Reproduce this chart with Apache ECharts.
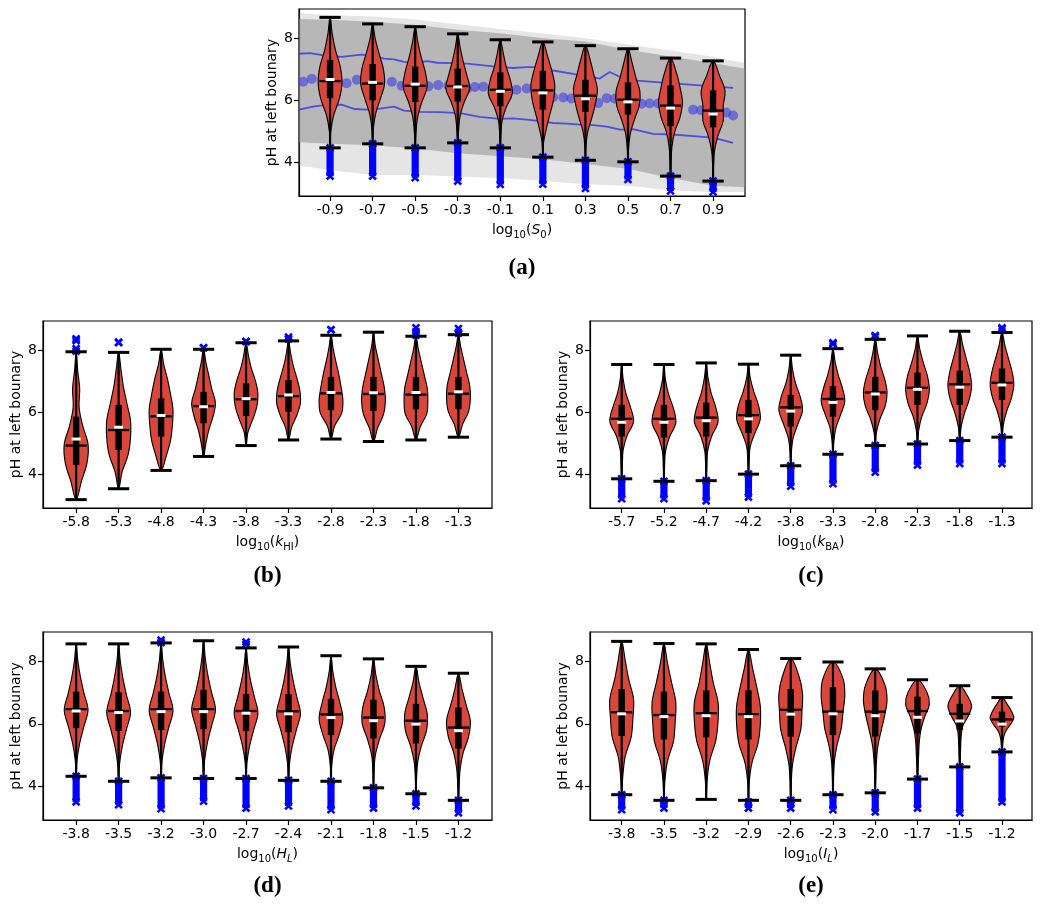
<!DOCTYPE html>
<html>
<head>
<meta charset="utf-8">
<script src="https://cdn.jsdelivr.net/npm/echarts@6/dist/echarts.min.js"></script>
<style>
html, body { margin: 0; padding: 0; background: #fff; }
#chart { width: 1050px; height: 916px; }
</style>
</head>
<body>
<div id="chart"></div>
<script>
// ---- panel (a): log10(S0)
var labelsA = ['-0.9', '-0.7', '-0.5', '-0.3', '-0.1', '0.1', '0.3', '0.5', '0.7', '0.9'];
var capLoA = [4.47, 4.60, 4.47, 4.63, 4.47, 4.17, 4.07, 4.02, 3.56, 3.40];
var capHiA = [8.67, 8.46, 8.37, 8.14, 7.95, 7.88, 7.76, 7.66, 7.36, 7.27];
var q1A = [6.07, 6.00, 5.95, 5.96, 5.81, 5.70, 5.63, 5.54, 5.17, 5.13];
var q3A = [7.30, 7.17, 7.09, 7.02, 6.90, 6.95, 6.66, 6.58, 6.48, 6.32];
var medA = [6.62, 6.54, 6.47, 6.46, 6.34, 6.32, 6.15, 6.02, 5.83, 5.67];
var meanA = [6.67, 6.58, 6.52, 6.43, 6.29, 6.24, 6.05, 5.95, 5.75, 5.56];
var shapeA = [
	[0, 0.06, 0.30, 0.78, 1.00, 0.85, 0.45, 0.18, 0],
	[0, 0.06, 0.25, 0.65, 1.00, 0.90, 0.55, 0.22, 0],
	[0, 0.07, 0.20, 0.55, 1.00, 0.85, 0.50, 0.22, 0],
	[0, 0.08, 0.20, 0.55, 1.00, 0.75, 0.45, 0.20, 0],
	[0, 0.05, 0.15, 0.50, 1.00, 0.85, 0.50, 0.25, 0],
	[0, 0.06, 0.30, 0.60, 0.90, 1.00, 0.75, 0.40, 0],
	[0, 0.05, 0.20, 0.55, 0.85, 1.00, 0.70, 0.40, 0],
	[0, 0.06, 0.20, 0.55, 0.95, 1.00, 0.65, 0.35, 0],
	[0, 0.05, 0.12, 0.35, 0.80, 1.00, 0.80, 0.50, 0],
	[0, 0.04, 0.12, 0.40, 0.85, 0.85, 1.00, 0.55, 0]
];
var outA = [[0, 3.56, 4.47], [1, 3.56, 4.60], [2, 3.51, 4.47], [3, 3.40, 4.63], [4, 3.29, 4.47],
	[5, 3.30, 4.17], [6, 3.16, 4.07], [7, 3.45, 4.02], [8, 3.08, 3.56], [9, 3.05, 3.40]];

// grey cloud of samples behind panel (a)
var bandX = [-0.73, 0, 1, 2, 3, 4, 5, 6, 7, 8, 9, 9.75];
var denseTop = [8.62, 8.59, 8.53, 8.43, 8.27, 8.16, 8.00, 7.89, 7.63, 7.41, 7.20, 7.02];
var denseBot = [4.65, 4.60, 4.55, 4.45, 4.30, 4.20, 4.10, 3.95, 3.80, 3.50, 3.25, 3.20];
var sparseTop = [8.80, 8.75, 8.70, 8.60, 8.45, 8.30, 8.15, 8.00, 7.80, 7.60, 7.40, 7.20];
var sparseBot = [3.90, 3.75, 3.60, 3.60, 3.55, 3.50, 3.40, 3.30, 3.25, 3.10, 3.05, 3.05];

// blue percentile lines and mean dots in panel (a)
var upX = [-0.73, -0.47, -0.08, 0.27, 0.58, 0.74, 1.02, 1.27, 1.50, 1.74, 2.05, 2.28, 2.52, 2.90, 3.22, 3.83, 4.30, 4.62, 4.93, 5.24, 5.71, 6.18, 6.34, 6.57, 6.96, 7.75, 8.53, 9.47];
var upY = [7.50, 7.52, 7.43, 7.40, 7.45, 7.47, 7.42, 7.34, 7.32, 7.24, 7.21, 7.26, 7.21, 7.20, 7.18, 7.09, 7.04, 7.07, 7.07, 6.96, 6.85, 6.74, 6.70, 6.91, 6.66, 6.58, 6.50, 6.40];
var loX = [-0.73, -0.40, -0.23, 0.27, 0.58, 0.86, 1.17, 1.50, 1.74, 2.11, 2.58, 3.05, 3.52, 3.99, 4.30, 4.62, 4.93, 5.24, 5.56, 5.87, 6.18, 6.50, 6.81, 7.12, 7.59, 8.06, 8.53, 9.00, 9.47];
var loY = [5.70, 5.80, 5.83, 5.86, 5.72, 5.70, 5.73, 5.80, 5.67, 5.63, 5.62, 5.59, 5.47, 5.40, 5.42, 5.38, 5.33, 5.27, 5.25, 5.22, 5.20, 5.15, 5.06, 5.07, 4.92, 4.90, 4.85, 4.80, 4.63];
var dotX = [-0.63, -0.43, 0.39, 0.63, 1.45, 1.68, 2.31, 2.54, 2.78, 3.21, 3.40, 3.60, 4.15, 4.38, 4.62, 4.85, 5.24, 5.48, 5.67, 6.30, 6.50, 6.69, 7.32, 7.51, 7.71, 8.53, 8.72, 9.31, 9.47];
var dotY = [6.60, 6.69, 6.55, 6.66, 6.60, 6.47, 6.45, 6.49, 6.48, 6.36, 6.43, 6.44, 6.27, 6.34, 6.38, 6.30, 6.10, 6.09, 6.06, 5.91, 6.07, 6.05, 5.89, 5.90, 5.90, 5.70, 5.68, 5.61, 5.51];

// ---- panel (b): log10(kHI)
var labelsB = ['-5.8', '-5.3', '-4.8', '-4.3', '-3.8', '-3.3', '-2.8', '-2.3', '-1.8', '-1.3'];
var capLoB = [3.19, 3.54, 4.13, 4.58, 4.93, 5.11, 5.14, 5.06, 5.11, 5.20];
var capHiB = [7.95, 7.93, 8.03, 8.03, 8.24, 8.30, 8.48, 8.58, 8.45, 8.50];
var q1B = [4.31, 4.79, 5.22, 5.65, 5.88, 6.02, 6.07, 6.05, 6.10, 6.10];
var q3B = [5.86, 6.24, 6.45, 6.66, 6.93, 7.04, 7.14, 7.14, 7.14, 7.14];
var medB = [4.93, 5.43, 5.87, 6.20, 6.42, 6.52, 6.61, 6.59, 6.57, 6.60];
var meanB = [5.14, 5.52, 5.90, 6.18, 6.44, 6.56, 6.64, 6.63, 6.64, 6.66];
var shapeB = [
	[0, 0.45, 0.92, 1.00, 0.55, 0.25, 0.30, 0.13, 0],
	[0, 0.30, 0.80, 1.00, 1.00, 0.70, 0.40, 0.20, 0],
	[0, 0.45, 0.80, 0.95, 1.00, 0.80, 0.55, 0.22, 0],
	[0, 0.20, 0.45, 0.80, 1.00, 0.70, 0.45, 0.20, 0],
	[0, 0.15, 0.55, 0.90, 1.00, 0.80, 0.45, 0.20, 0],
	[0, 0.25, 0.70, 1.00, 0.95, 0.70, 0.40, 0.18, 0],
	[0, 0.30, 0.90, 1.00, 0.85, 0.65, 0.40, 0.18, 0],
	[0, 0.35, 0.85, 1.00, 0.90, 0.65, 0.40, 0.15, 0],
	[0, 0.35, 0.90, 1.00, 0.95, 0.70, 0.45, 0.20, 0],
	[0, 0.35, 0.85, 1.00, 0.95, 0.70, 0.45, 0.20, 0]
];
var outB = [[0, 7.97, 8.05], [0, 8.31, 8.37], [1, 8.25, 8.25], [3, 8.08, 8.08], [4, 8.28, 8.28],
	[5, 8.36, 8.42], [6, 8.66, 8.66], [8, 8.48, 8.72], [9, 8.55, 8.70]];

// ---- panel (c): log10(kBA)
var labelsC = ['-5.7', '-5.2', '-4.7', '-4.2', '-3.8', '-3.3', '-2.8', '-2.3', '-1.8', '-1.3'];
var capLoC = [3.86, 3.78, 3.80, 4.01, 4.28, 4.65, 4.93, 4.98, 5.09, 5.20];
var capHiC = [7.54, 7.54, 7.59, 7.55, 7.84, 8.05, 8.35, 8.46, 8.61, 8.57];
var q1C = [5.22, 5.19, 5.22, 5.33, 5.54, 5.86, 6.07, 6.24, 6.24, 6.40];
var q3C = [6.24, 6.24, 6.31, 6.40, 6.56, 6.84, 7.14, 7.28, 7.34, 7.41];
var medC = [5.79, 5.79, 5.83, 5.91, 6.16, 6.43, 6.64, 6.79, 6.90, 6.95];
var meanC = [5.68, 5.68, 5.73, 5.79, 6.04, 6.32, 6.59, 6.74, 6.81, 6.88];
var shapeC = [
	[0, 0.06, 0.12, 0.45, 1.00, 0.75, 0.35, 0.12, 0],
	[0, 0.05, 0.12, 0.45, 1.00, 0.80, 0.38, 0.12, 0],
	[0, 0.05, 0.12, 0.45, 1.00, 0.80, 0.40, 0.15, 0],
	[0, 0.06, 0.15, 0.55, 1.00, 0.85, 0.45, 0.15, 0],
	[0, 0.06, 0.20, 0.60, 1.00, 0.80, 0.40, 0.15, 0],
	[0, 0.08, 0.25, 0.65, 1.00, 0.80, 0.45, 0.18, 0],
	[0, 0.10, 0.40, 0.85, 1.00, 0.80, 0.45, 0.20, 0],
	[0, 0.10, 0.35, 0.80, 1.00, 0.85, 0.50, 0.20, 0],
	[0, 0.12, 0.40, 0.80, 1.00, 0.85, 0.55, 0.25, 0],
	[0, 0.12, 0.40, 0.80, 1.00, 0.85, 0.55, 0.25, 0]
];
var outC = [[0, 3.22, 3.86], [1, 3.22, 3.78], [2, 3.15, 3.80], [3, 3.27, 4.01], [4, 3.62, 4.28],
	[5, 3.70, 4.65], [6, 4.07, 4.93], [7, 4.30, 4.98], [8, 4.35, 5.09], [9, 4.35, 5.20],
	[5, 8.20, 8.24], [6, 8.43, 8.47], [9, 8.68, 8.72]];

// ---- panel (d): log10(HL)
var labelsD = ['-3.8', '-3.5', '-3.2', '-3.0', '-2.7', '-2.4', '-2.1', '-1.8', '-1.5', '-1.2'];
var capLoD = [4.32, 4.16, 4.27, 4.25, 4.25, 4.19, 4.16, 3.95, 3.76, 3.55];
var capHiD = [8.56, 8.56, 8.59, 8.66, 8.43, 8.46, 8.18, 8.08, 7.84, 7.62];
var q1D = [5.86, 5.77, 5.80, 5.83, 5.77, 5.73, 5.64, 5.53, 5.37, 5.21];
var q3D = [7.03, 7.01, 7.03, 7.09, 6.95, 6.95, 6.80, 6.77, 6.64, 6.52];
var medD = [6.47, 6.41, 6.47, 6.47, 6.41, 6.40, 6.30, 6.20, 6.10, 5.88];
var meanD = [6.41, 6.36, 6.39, 6.39, 6.34, 6.32, 6.20, 6.10, 5.99, 5.78];
var shapeD = [
	[0, 0.08, 0.30, 0.65, 1.00, 0.67, 0.36, 0.14, 0],
	[0, 0.08, 0.30, 0.65, 1.00, 0.67, 0.36, 0.14, 0],
	[0, 0.08, 0.30, 0.65, 1.00, 0.67, 0.36, 0.14, 0],
	[0, 0.08, 0.30, 0.65, 1.00, 0.67, 0.36, 0.14, 0],
	[0, 0.08, 0.30, 0.65, 1.00, 0.70, 0.38, 0.15, 0],
	[0, 0.08, 0.30, 0.65, 1.00, 0.70, 0.38, 0.15, 0],
	[0, 0.06, 0.25, 0.70, 1.00, 0.75, 0.40, 0.15, 0],
	[0, 0.05, 0.15, 0.50, 0.95, 0.90, 0.50, 0.20, 0],
	[0, 0.05, 0.15, 0.45, 0.90, 0.95, 0.60, 0.25, 0],
	[0, 0.06, 0.15, 0.40, 0.85, 1.00, 0.65, 0.30, 0]
];
var outD = [[0, 3.50, 4.32], [1, 3.41, 4.16], [2, 3.28, 4.27], [3, 3.52, 4.25], [4, 3.30, 4.25],
	[5, 3.37, 4.19], [6, 3.25, 4.16], [7, 3.30, 3.95], [8, 3.37, 3.76], [9, 3.15, 3.55],
	[2, 8.60, 8.68], [4, 8.55, 8.62]];

// ---- panel (e): log10(IL)
var labelsE = ['-3.8', '-3.5', '-3.2', '-2.9', '-2.6', '-2.3', '-2.0', '-1.7', '-1.5', '-1.2'];
var capLoE = [3.73, 3.55, 3.58, 3.55, 3.55, 3.73, 3.79, 4.23, 4.62, 5.10];
var capHiE = [8.64, 8.57, 8.56, 8.38, 8.09, 7.98, 7.76, 7.41, 7.22, 6.84];
var q1E = [5.61, 5.50, 5.57, 5.50, 5.59, 5.64, 5.59, 5.69, 5.80, 5.91];
var q3E = [7.11, 7.03, 7.07, 7.07, 7.11, 7.17, 7.07, 6.87, 6.64, 6.39];
var medE = [6.37, 6.28, 6.34, 6.31, 6.45, 6.39, 6.39, 6.41, 6.32, 6.14];
var meanE = [6.32, 6.23, 6.26, 6.23, 6.31, 6.32, 6.26, 6.21, 6.09, 5.99];
var shapeE = [
	[0, 0.10, 0.30, 0.80, 0.95, 1.00, 0.60, 0.30, 0],
	[0, 0.08, 0.30, 0.80, 0.95, 1.00, 0.65, 0.30, 0],
	[0, 0.08, 0.30, 0.80, 1.00, 1.00, 0.60, 0.30, 0],
	[0, 0.07, 0.30, 0.80, 1.00, 1.00, 0.70, 0.35, 0],
	[0, 0.05, 0.15, 0.45, 0.85, 0.95, 1.00, 0.70, 0],
	[0, 0.05, 0.12, 0.35, 0.70, 0.85, 1.00, 0.85, 0],
	[0, 0.04, 0.10, 0.22, 0.50, 0.80, 1.00, 0.80, 0],
	[0, 0.05, 0.10, 0.15, 0.30, 0.60, 1.00, 0.80, 0],
	[0, 0.05, 0.08, 0.12, 0.25, 0.70, 1.00, 0.65, 0],
	[0, 0.06, 0.12, 0.30, 0.70, 1.00, 0.80, 0.45, 0]
];
var outE = [[0, 3.25, 3.73], [1, 3.30, 3.55], [3, 3.30, 3.50], [4, 3.30, 3.55], [5, 3.25, 3.73],
	[6, 3.18, 3.79], [7, 3.30, 4.23], [8, 3.15, 4.62], [9, 3.50, 5.10]];

var yTicks = [4, 6, 8];
var xTicks = [0, 1, 2, 3, 4, 5, 6, 7, 8, 9];
var FONT = 'DejaVu Sans';

var panels = [
	{ labels: labelsA, capLo: capLoA, capHi: capHiA, q1: q1A, q3: q3A, med: medA, mean: meanA, shape: shapeA, out: outA,
		name: '{t|log}{s|10}{t|(}{i|S}{s|0}{t|)}', title: '(a)',
		rect: [299, 9, 446, 187], xr: [-0.73, 9.75] },
	{ labels: labelsB, capLo: capLoB, capHi: capHiB, q1: q1B, q3: q3B, med: medB, mean: meanB, shape: shapeB, out: outB,
		name: '{t|log}{s|10}{t|(}{i|k}{s|HI}{t|)}', title: '(b)',
		rect: [43, 321, 449, 187], xr: [-0.78, 9.79] },
	{ labels: labelsC, capLo: capLoC, capHi: capHiC, q1: q1C, q3: q3C, med: medC, mean: meanC, shape: shapeC, out: outC,
		name: '{t|log}{s|10}{t|(}{i|k}{s|BA}{t|)}', title: '(c)',
		rect: [590, 321, 442, 187], xr: [-0.75, 9.71] },
	{ labels: labelsD, capLo: capLoD, capHi: capHiD, q1: q1D, q3: q3D, med: medD, mean: meanD, shape: shapeD, out: outD,
		name: '{t|log}{s|10}{t|(}{i|H}{si|L}{t|)}', title: '(d)',
		rect: [43, 632, 449, 188], xr: [-0.78, 9.79] },
	{ labels: labelsE, capLo: capLoE, capHi: capHiE, q1: q1E, q3: q3E, med: medE, mean: meanE, shape: shapeE, out: outE,
		name: '{t|log}{s|10}{t|(}{i|I}{si|L}{t|)}', title: '(e)',
		rect: [590, 632, 442, 188], xr: [-0.75, 9.71] }
];

var nameRich = {
	t: { fontFamily: FONT, fontSize: 14, color: '#000', lineHeight: 20 },
	i: { fontFamily: FONT, fontSize: 14, fontStyle: 'italic', color: '#000', lineHeight: 20 },
	s: { fontFamily: FONT, fontSize: 10, color: '#000', lineHeight: 10, verticalAlign: 'bottom' },
	si: { fontFamily: FONT, fontSize: 10, fontStyle: 'italic', color: '#000', lineHeight: 10, verticalAlign: 'bottom' }
};

function violinItem(p) {
	return function (params, api) {
		var i = api.value(0);
		var lo = p.capLo[i], hi = p.capHi[i], w = p.shape[i];
		var unit = api.size([1, 0])[0];
		var half = 0.28 * unit, cap = 0.25 * unit;
		var n = w.length, pts = [], j, c;
		for (j = 0; j < n; j++) {
			c = api.coord([i, lo + (hi - lo) * j / (n - 1)]);
			pts.push([c[0] + w[j] * half, c[1]]);
		}
		for (j = n - 2; j > 0; j--) {
			c = api.coord([i, lo + (hi - lo) * j / (n - 1)]);
			pts.push([c[0] - w[j] * half, c[1]]);
		}
		var pLo = api.coord([i, lo]), pHi = api.coord([i, hi]);
		var pQ1 = api.coord([i, p.q1[i]]), pQ3 = api.coord([i, p.q3[i]]);
		var pMed = api.coord([i, p.med[i]]), pMean = api.coord([i, p.mean[i]]);
		var x = pLo[0];
		return {
			type: 'group',
			children: [
				{ type: 'polygon', shape: { points: pts, smooth: 0.35 }, style: { fill: '#d9463a', stroke: '#000', lineWidth: 1.1 } },
				{ type: 'line', shape: { x1: x, y1: pLo[1], x2: x, y2: pHi[1] }, style: { stroke: '#000', lineWidth: 2.2 } },
				{ type: 'rect', shape: { x: x - 3.2, y: pQ3[1], width: 6.4, height: pQ1[1] - pQ3[1] }, style: { fill: '#000' } },
				{ type: 'line', shape: { x1: x - cap, y1: pLo[1], x2: x + cap, y2: pLo[1] }, style: { stroke: '#000', lineWidth: 3 } },
				{ type: 'line', shape: { x1: x - cap, y1: pHi[1], x2: x + cap, y2: pHi[1] }, style: { stroke: '#000', lineWidth: 3 } },
				{ type: 'line', shape: { x1: x - cap, y1: pMed[1], x2: x + cap, y2: pMed[1] }, style: { stroke: '#000', lineWidth: 2.3 } },
				{ type: 'rect', shape: { x: x - 4.5, y: pMean[1] - 1.5, width: 9, height: 3 }, style: { fill: '#fff' } }
			]
		};
	};
}

function outlierItem(params, api) {
	var a = api.coord([api.value(0), api.value(1)]);
	var b = api.coord([api.value(0), api.value(2)]);
	var x = a[0], s = 3.4;
	var kids = [{ type: 'rect', shape: { x: x - 3.6, y: b[1], width: 7.2, height: a[1] - b[1] }, style: { fill: '#0000ff' } }];
	[a[1], b[1]].forEach(function (y) {
		kids.push({ type: 'line', shape: { x1: x - s, y1: y - s, x2: x + s, y2: y + s }, style: { stroke: '#0000ff', lineWidth: 2.6 } });
		kids.push({ type: 'line', shape: { x1: x - s, y1: y + s, x2: x + s, y2: y - s }, style: { stroke: '#0000ff', lineWidth: 2.6 } });
	});
	return { type: 'group', children: kids };
}

function bandItem(top, bot, color) {
	return function (params, api) {
		var pts = [], k;
		for (k = 0; k < bandX.length; k++) pts.push(api.coord([bandX[k], top[k]]));
		for (k = bandX.length - 1; k >= 0; k--) pts.push(api.coord([bandX[k], bot[k]]));
		return { type: 'polygon', shape: { points: pts }, style: { fill: color } };
	};
}

var grids = [], xAxes = [], yAxes = [], series = [], graphics = [];
panels.forEach(function (p, k) {
	grids.push({ left: p.rect[0], top: p.rect[1], width: p.rect[2], height: p.rect[3],
		show: true, borderColor: '#000', borderWidth: 1.2, backgroundColor: 'transparent' });
	xAxes.push({
		gridIndex: k, type: 'value', min: p.xr[0], max: p.xr[1],
		axisLine: { show: true, onZero: false, lineStyle: { color: '#000', width: 1.2 } },
		axisTick: { show: true, customValues: xTicks, length: 5, lineStyle: { color: '#000', width: 1.2 } },
		axisLabel: { customValues: xTicks, color: '#000', fontFamily: FONT, fontSize: 14, margin: 7,
			formatter: function (v) { return p.labels[Math.round(v)]; } },
		splitLine: { show: false },
		name: p.name, nameLocation: 'middle', nameGap: 24,
		nameTextStyle: { rich: nameRich }
	});
	yAxes.push({
		gridIndex: k, type: 'value', min: 2.92, max: 8.94,
		axisLine: { show: true, onZero: false, lineStyle: { color: '#000', width: 1.2 } },
		axisTick: { show: true, customValues: yTicks, length: 5, lineStyle: { color: '#000', width: 1.2 } },
		axisLabel: { customValues: yTicks, color: '#000', fontFamily: FONT, fontSize: 14, margin: 6 },
		splitLine: { show: false },
		name: 'pH at left bounary', nameLocation: 'middle', nameGap: 20,
		nameTextStyle: { fontFamily: FONT, fontSize: 14, color: '#000' }
	});
	series.push({
		type: 'custom', xAxisIndex: k, yAxisIndex: k, z: 3, silent: true,
		data: p.out, encode: { x: 0, y: [1, 2] },
		renderItem: outlierItem
	});
	series.push({
		type: 'custom', xAxisIndex: k, yAxisIndex: k, z: 4, silent: true,
		data: p.capLo.map(function (v, i) { return [i, v, p.capHi[i]]; }),
		encode: { x: 0, y: [1, 2] },
		renderItem: violinItem(p)
	});
	graphics.push({
		type: 'text', x: p.rect[0] + p.rect[2] / 2, y: k === 0 ? 268 : (k < 3 ? 576 : 886),
		style: { text: p.title, fill: '#000', font: 'bold 23px "Liberation Serif"', align: 'center', verticalAlign: 'middle' }
	});
});

// panel (a) background: sample cloud, percentile lines, running mean
series.push({
	type: 'custom', xAxisIndex: 0, yAxisIndex: 0, z: 1, silent: true, clip: true,
	data: [[4, 6]], renderItem: bandItem(sparseTop, sparseBot, 'rgba(150,150,150,0.25)')
});
series.push({
	type: 'custom', xAxisIndex: 0, yAxisIndex: 0, z: 1, silent: true, clip: true,
	data: [[4, 6]], renderItem: bandItem(denseTop, denseBot, 'rgba(145,145,145,0.55)')
});
series.push({
	type: 'line', xAxisIndex: 0, yAxisIndex: 0, z: 2, silent: true, showSymbol: false,
	data: upX.map(function (x, i) { return [x, upY[i]]; }),
	lineStyle: { color: 'rgba(50,50,235,0.8)', width: 1.8 }
});
series.push({
	type: 'line', xAxisIndex: 0, yAxisIndex: 0, z: 2, silent: true, showSymbol: false,
	data: loX.map(function (x, i) { return [x, loY[i]]; }),
	lineStyle: { color: 'rgba(50,50,235,0.8)', width: 1.8 }
});
series.push({
	type: 'scatter', xAxisIndex: 0, yAxisIndex: 0, z: 2, silent: true, symbolSize: 10,
	data: dotX.map(function (x, i) { return [x, dotY[i]]; }),
	itemStyle: { color: 'rgba(60,60,230,0.75)' }
});

var chart = echarts.init(document.getElementById('chart'));
chart.setOption({
	animation: false,
	backgroundColor: '#fff',
	grid: grids,
	xAxis: xAxes,
	yAxis: yAxes,
	series: series,
	graphic: graphics
});
</script>
</body>
</html>
